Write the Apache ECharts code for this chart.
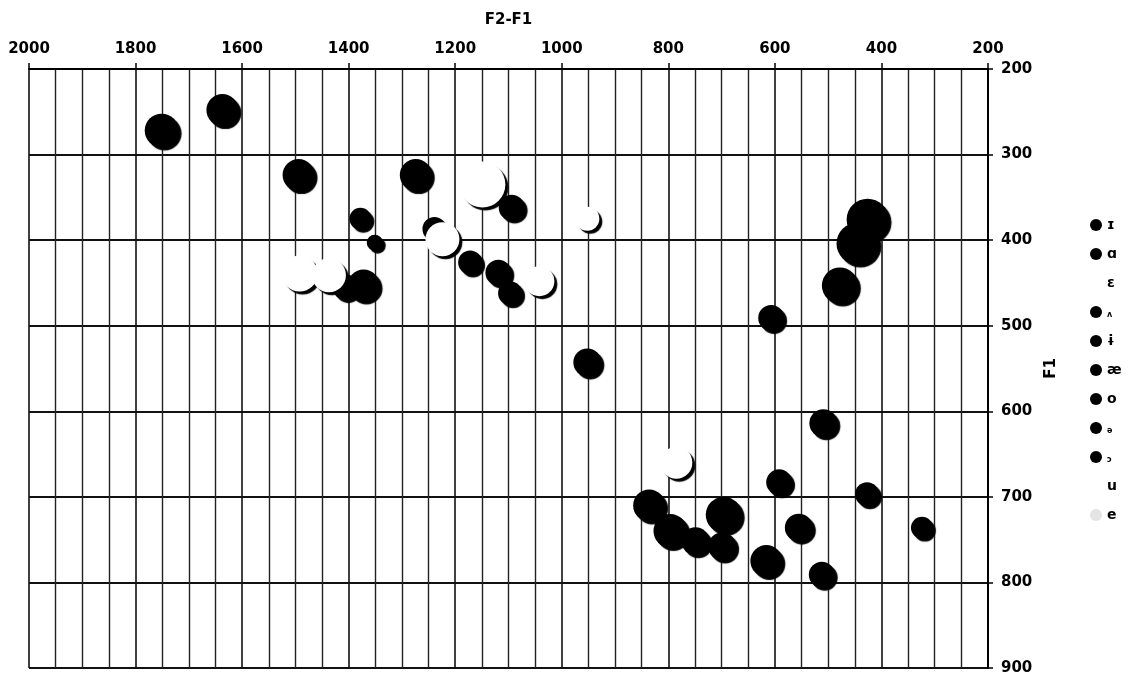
<!DOCTYPE html>
<html>
<head>
<meta charset="utf-8">
<script src="https://cdn.jsdelivr.net/npm/echarts@6/dist/echarts.min.js"></script>
<style>
html,body{margin:0;padding:0;background:#fff;}
#chart{width:1132px;height:681px;}
</style>
</head>
<body>
<div id="chart"></div>
<script>
// Axis tick values
const xTicks = [2000, 1800, 1600, 1400, 1200, 1000, 800, 600, 400, 200];
const yTicks = [200, 300, 400, 500, 600, 700, 800, 900];

// Legend categories (order as in reference)
const categories = ['ɪ', 'ɑ', 'ɛ', 'ʌ', 'ɨ', 'æ', 'o', 'ə', 'ɔ', 'u', 'e'];

// Each point: [F2-F1, F1, bubble size value]
const s_I   = [[1494, 324, 64], [1274, 324, 64], [1378, 375, 30], [1351, 403, 16]];
const s_a   = [[836, 710, 64], [796, 740, 72], [749, 752, 49], [696, 721, 81], [699, 758, 49]];
const s_E   = [[1492, 439, 81], [1437, 441, 72]];
const s_V   = [[952, 543, 49], [607, 491, 42], [509, 614, 49], [592, 683, 42], [427, 697, 36]];
const s_i   = [[1751, 272, 72], [1637, 248, 64], [1094, 362, 42], [1239, 387, 36]];
const s_ae  = [[1406, 455, 42], [1372, 453, 64], [1172, 426, 36], [1119, 438, 42], [1097, 462, 36]];
const s_o   = [[426, 376, 110], [445, 404, 110], [478, 453, 81]];
const s_schwa = [[555, 736, 49], [616, 775, 64]];
const s_O   = [[512, 791, 42], [324, 736, 30]];
const s_u   = [[1149, 335, 132], [1224, 399, 72], [952, 375, 36]];
const s_e   = [[1042, 448, 56], [785, 660, 64]];

const seriesData = {
  'ɪ': s_I, 'ɑ': s_a, 'ɛ': s_E, 'ʌ': s_V, 'ɨ': s_i, 'æ': s_ae,
  'o': s_o, 'ə': s_schwa, 'ɔ': s_O, 'u': s_u, 'e': s_e
};
const whiteSet = ['ɛ', 'u', 'e'];
const smallSet = ['ʌ', 'ə', 'ɔ'];

const FONT = 'DejaVu Sans';
const chart = echarts.init(document.getElementById('chart'), null, {renderer: 'canvas'});

// black series first, white series drawn on top
const drawOrder = categories.filter(c => !whiteSet.includes(c)).concat(categories.filter(c => whiteSet.includes(c)));

const series = drawOrder.map(name => {
  const white = whiteSet.includes(name);
  return {
    name: name,
    type: 'scatter',
    data: seriesData[name],
    symbol: 'circle',
    symbolSize: d => 4 * Math.sqrt(d[2]),
    itemStyle: {
      color: white ? '#ffffff' : '#000000',
      opacity: 1,
      shadowColor: '#000',
      shadowBlur: 1,
      shadowOffsetX: 3,
      shadowOffsetY: 3
    },
    emphasis: {disabled: true},
    z: white ? 3 : 2
  };
});

const legendData = categories.map(name => {
  let color = whiteSet.includes(name) ? '#ffffff' : '#000000';
  if (name === 'e') color = '#e4e4e4';
  return {
    name: name,
    itemStyle: {color: color, shadowColor: 'transparent', shadowBlur: 0, shadowOffsetX: 0, shadowOffsetY: 0, borderWidth: 0}
  };
});

chart.setOption({
  animation: false,
  backgroundColor: '#fff',
  grid: {left: 29, right: 144, top: 69, bottom: 13, containLabel: false},
  legend: {
    orient: 'vertical',
    left: 1085,
    top: 213,
    itemWidth: 12,
    itemHeight: 12,
    itemGap: 15,
    icon: 'circle',
    data: legendData,
    selectedMode: false,
    formatter: n => smallSet.includes(n) ? '{s|' + n + '}' : n,
    textStyle: {
      fontFamily: FONT, fontWeight: 'bold', fontSize: 14, color: '#000', lineHeight: 14,
      rich: {s: {fontFamily: FONT, fontWeight: 'bold', fontSize: 8, color: '#000', padding: [6, 0, 0, 0]}}
    }
  },
  xAxis: {
    type: 'value',
    position: 'top',
    inverse: true,
    min: xTicks[xTicks.length - 1],
    max: xTicks[0],
    interval: 200,
    name: 'F2-F1',
    nameLocation: 'middle',
    nameGap: 41,
    nameTextStyle: {fontFamily: FONT, fontWeight: 'bold', fontSize: 15, color: '#000'},
    axisLine: {show: true, lineStyle: {color: '#000', width: 2}},
    axisTick: {show: true, length: 6, lineStyle: {color: '#000', width: 1.5}},
    axisLabel: {fontFamily: FONT, fontWeight: 'bold', fontSize: 15, color: '#000', margin: 12, formatter: v => String(v)},
    splitLine: {show: true, lineStyle: {color: '#111', width: 1.6}},
    minorTick: {show: false, splitNumber: 4},
    minorSplitLine: {show: true, lineStyle: {color: '#222', width: 1.4}}
  },
  yAxis: {
    type: 'value',
    position: 'right',
    inverse: true,
    min: yTicks[0],
    max: yTicks[yTicks.length - 1],
    interval: 100,
    name: 'F1',
    nameLocation: 'middle',
    nameGap: 55,
    nameTextStyle: {fontFamily: FONT, fontWeight: 'bold', fontSize: 15, color: '#000'},
    axisLine: {show: true, lineStyle: {color: '#000', width: 2}},
    axisTick: {show: true, length: 5, lineStyle: {color: '#000', width: 1.5}},
    axisLabel: {fontFamily: FONT, fontWeight: 'bold', fontSize: 15, color: '#000', margin: 13, formatter: v => String(v)},
    splitLine: {show: true, lineStyle: {color: '#111', width: 2}}
  },
  series: series
});
</script>
</body>
</html>
